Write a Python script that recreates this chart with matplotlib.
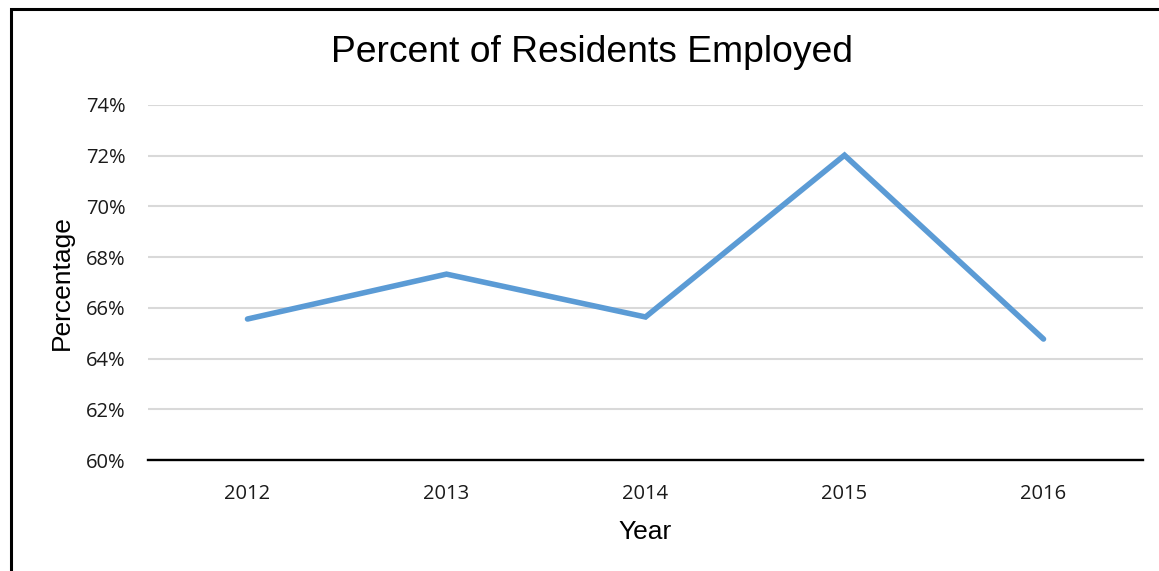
import matplotlib.pyplot as plt
from matplotlib.patches import Rectangle
from matplotlib.ticker import FuncFormatter

# Data
years = ['2012', '2013', '2014', '2015', '2016']
employed = [65.56, 67.33, 65.64, 72.02, 64.77]

fig = plt.figure(figsize=(11.59, 5.71), dpi=100)
ax = fig.add_axes([148 / 1159, 1 - 460 / 571, 995 / 1159, 355 / 571])

ax.plot(range(len(years)), employed, color='#5B9BD5', linewidth=4.0,
        solid_capstyle='round', solid_joinstyle='miter', zorder=3)

ax.set_xlim(-0.5, len(years) - 0.5)
ax.set_ylim(60, 74)
ax.set_yticks(range(60, 75, 2))
ax.yaxis.set_major_formatter(FuncFormatter(lambda v, p: f'{v:.0f}%'))
ax.set_xticks(range(len(years)))
ax.set_xticklabels(years)

ax.grid(axis='y', color='#D9D9D9', linewidth=1.5)
ax.set_axisbelow(True)
for s in ['top', 'right', 'left']:
    ax.spines[s].set_visible(False)
ax.spines['bottom'].set_linewidth(1.7)
ax.tick_params(length=0, labelsize=14.5, labelcolor='#1a1a1a')
ax.tick_params(axis='y', pad=16)
ax.tick_params(axis='x', pad=17)
for lbl in ax.get_xticklabels() + ax.get_yticklabels():
    lbl.set_family('Open Sans')

ax.set_xlabel('Year', family='Liberation Sans', fontsize=19, labelpad=12)
ax.set_ylabel('Percentage', family='Liberation Sans', fontsize=19, labelpad=9)
fig.text(592 / 1159, 1 - 52 / 571, 'Percent of Residents Employed',
         family='Liberation Sans', fontsize=26.8, ha='center', va='center')

# outer border (right and bottom run off the image)
fig.patches.append(Rectangle((11 / 1159, -0.1), 1.2, 1 - 9 / 571 + 0.1,
                             transform=fig.transFigure, fill=False,
                             edgecolor='black', linewidth=2.2))

fig.savefig('out.png', dpi=100)
